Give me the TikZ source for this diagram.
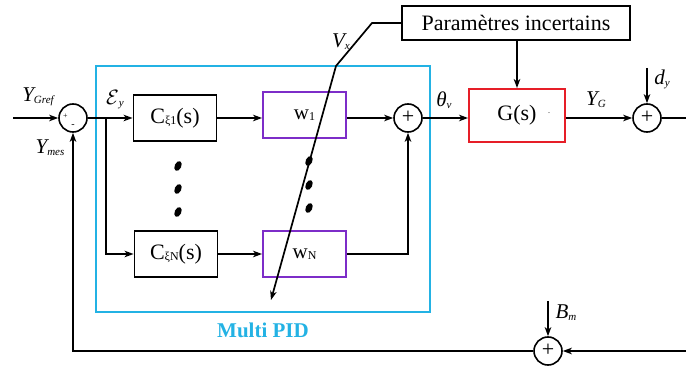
\documentclass[tikz,border=0pt]{standalone}
\usepackage{fontspec}
\setmainfont{Liberation Serif}
\usetikzlibrary{arrows.meta}
\definecolor{pidblue}{RGB}{35,178,228}
\definecolor{wpurple}{RGB}{125,45,200}
\definecolor{gred}{RGB}{230,30,40}
\newcommand\lbl[2]{{\fontsize{21}{21}\selectfont\itshape #1}\raisebox{-0.4ex}{\fontsize{11}{11}\selectfont\itshape #2}}
\newcommand\bigtxt[1]{\fontsize{22}{22}\selectfont #1}
\newcommand\smalls[1]{\raisebox{-0.15ex}{\fontsize{12}{12}\selectfont #1}}
\begin{document}
\begin{tikzpicture}[x=1pt,y=-1pt,
  line width=1.7pt,
  arr/.style={-{Stealth[length=9pt,width=6.5pt,inset=2.5pt]}},
  blk/.style={draw=black,rectangle,minimum width=83pt,minimum height=46pt,inner sep=0pt,line width=1.9pt},
  wblk/.style={blk,draw=wpurple},
  sumc/.style={draw,circle,minimum size=28pt,inner sep=0pt,line width=1.6pt},
  txt/.style={inner sep=0pt}]
\useasboundingbox (0,0) rectangle (686,371);

% Multi PID frame
\node[draw=pidblue,line width=2.3pt,rectangle,minimum width=334pt,minimum height=246pt,inner sep=0pt] (pid) at (263,189) {};
\node[txt,text=pidblue,font=\fontsize{21}{21}\selectfont\bfseries] (pidlbl) at (263,330) {Multi PID};

% summing junctions
\node[sumc] (s1) at (73,118) {};
\node[txt,font=\fontsize{8}{8}\selectfont] (s1p) at (65.5,116.5) {+};
\node[txt,font=\fontsize{10}{10}\selectfont] (s1m) at (73,126) {-};
\node[sumc] (s2) at (408,118) {};
\node[txt,font=\fontsize{22}{22}\selectfont] (s2p) at (408,117.5) {+};
\node[sumc] (s3) at (647,118) {};
\node[txt,font=\fontsize{22}{22}\selectfont] (s3p) at (647,117.5) {+};
\node[sumc] (s4) at (548,351) {};
\node[txt,font=\fontsize{22}{22}\selectfont] (s4p) at (548,350.5) {+};

% blocks
\node[blk] (cx1) at (175,118) {\bigtxt{C\smalls{ξ1}(s)}};
\node[blk] (cxN) at (176,254) {\bigtxt{C\smalls{ξN}(s)}};
\node[wblk] (w1) at (304.5,115) {{\fontsize{21}{21}\selectfont w}\smalls{1}};
\node[wblk] (wN) at (304.5,254) {{\fontsize{21}{21}\selectfont w}\smalls{N}};
\node[blk,draw=gred,minimum width=96pt,minimum height=53pt] (G) at (517,115.5) {\bigtxt{G(s)}};
\node[txt,font=\fontsize{8}{8}\selectfont] (Gdot) at (549,113) {.};
\node[blk,minimum width=228pt,minimum height=34pt] (P) at (516,23) {\bigtxt{Paramètres incertains}};

% dots
\foreach \x/\y in {178/166,178/189,178/212,309/161,309/185,309/208}
  \fill[shift={(\x,\y)},rotate=-25] (0,0) ellipse (3.3pt and 5.2pt);

% coordinates
\coordinate (in) at (13,118);
\coordinate (br) at (106,118);
\coordinate (out) at (686,118);
\coordinate (dyt) at (647,68);
\coordinate (bmt) at (548,301);
\coordinate (fbin) at (686,351);
\coordinate (vx1) at (372,23);
\coordinate (vx2) at (336,66);
\coordinate (vx3) at (271,300);

% connectors
\draw[arr] (in) -- (s1.west);
\draw[arr] (s1.east) -- (cx1.west);
\draw[arr] (br) |- (cxN.west);
\draw[arr] (cx1.east) -- (cx1.east -| w1.west);
\draw[arr] (cxN.east) -- (wN.west);
\draw[arr] (w1.east |- s2) -- (s2.west);
\draw[arr] (wN.east) -| (s2.south);
\draw[arr] (s2.east) -- (s2.east -| G.west);
\draw[arr] (G.east |- s3) -- (s3.west);
\draw (s3.east) -- (out);
\draw[arr] (P.south -| G.north) -- (G.north);
\draw[arr] (dyt) -- (s3.north);
\draw[arr] (bmt) -- (s4.north);
\draw[arr] (fbin) -- (s4.east);
\draw[arr] (s4.west) -| (s1.south);
\draw[arr] (P.west) -- (vx1) -- (vx2) -- (vx3);

% labels
\node[txt] (lyg) at (38,97) {\lbl{Y}{Gref}};
\node[txt] (lym) at (50,148) {\lbl{Y}{mes}};
\node[txt] (ley) at (115,100) {{\fontsize{20}{20}\selectfont$\mathcal{E}$}\raisebox{-0.4ex}{\fontsize{11}{11}\selectfont\itshape y}};
\node[txt] (lvx) at (341,42) {\lbl{V}{x}};
\node[txt] (lth) at (444,100) {\lbl{θ}{v}};
\node[txt] (lyG) at (596,100) {\lbl{Y}{G}};
\node[txt] (ldy) at (662,79) {\lbl{d}{y}};
\node[txt] (lbm) at (566,313) {\lbl{B}{m}};
\end{tikzpicture}
\end{document}
